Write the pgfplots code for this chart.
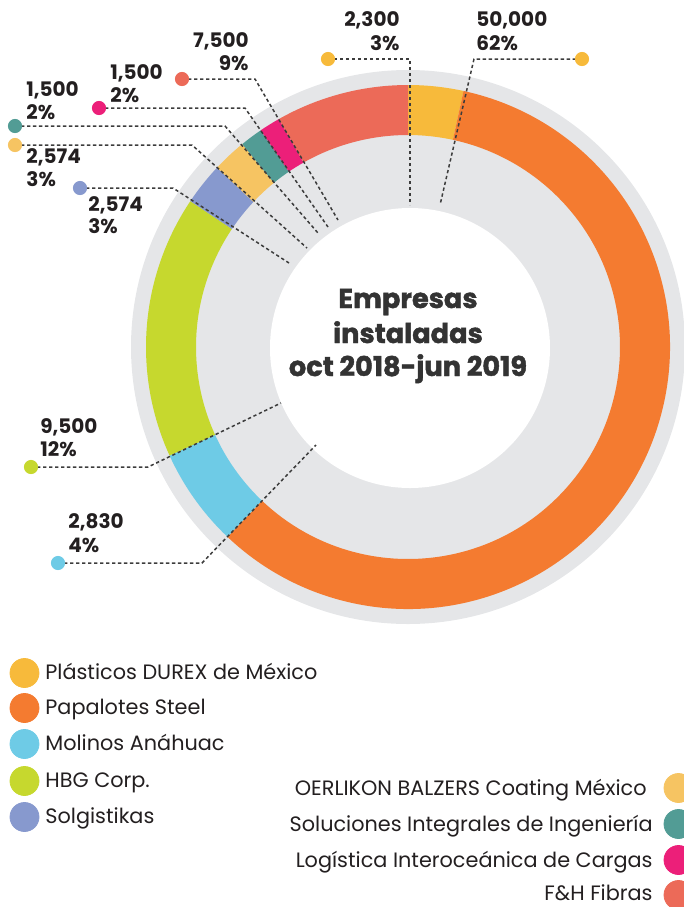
\documentclass[border=0pt]{standalone}
\usepackage{pgfplots}
\pgfplotsset{compat=1.18}
\usepackage{pgfplotstable}
\usepackage{fontspec}
\setmainfont{Poppins}
\newfontfamily\heavy[BoldFeatures={FakeBold=1.6}]{Poppins}

\definecolor{cDurex}{HTML}{F7BA3B}
\definecolor{cPapalotes}{HTML}{F47B30}
\definecolor{cMolinos}{HTML}{6ECBE6}
\definecolor{cHBG}{HTML}{C6D82E}
\definecolor{cSolg}{HTML}{8799CE}
\definecolor{cOerlikon}{HTML}{F6C462}
\definecolor{cSoluc}{HTML}{529C95}
\definecolor{cLogist}{HTML}{EC1F79}
\definecolor{cFH}{HTML}{EC6A58}
\definecolor{ringgray}{HTML}{E5E6E8}
\definecolor{txt}{HTML}{231F20}
\definecolor{leader}{HTML}{3C3C3C}

% share of the ring as drawn (percent), clockwise from 12 o'clock
\pgfplotstableread{
color      share value
cDurex     3.4   2300
cPapalotes 58.7  50000
cMolinos   6.1   2830
cHBG       16.2  9500
cSolg      2.6   2574
cOerlikon  2.1   2574
cSoluc     1.4   1500
cLogist    1.3   1500
cFH        8.2   7500
}\slices

\tikzset{
  lead/.style={leader, line width=0.75pt, dash pattern=on 1.65pt off 1.35pt,
    mark=*, mark indices={1}, mark size=3.15pt,
    mark options={solid, draw=#1, fill=#1}},
  sw/.style={only marks, mark=*, mark size=7.25pt, mark options={draw=#1, fill=#1}},
  num/.style={font=\fontsize{10}{12}\selectfont\bfseries, text=txt, inner sep=0pt},
  leg/.style={font=\fontsize{10.4}{12}\selectfont, text=txt, inner sep=0pt},
  ttl/.style={font=\fontsize{13.6}{15}\selectfont\heavy\bfseries, text=black!80, inner sep=0pt, anchor=base},
}

\begin{document}
\begin{tikzpicture}
\begin{axis}[
  width=342pt, height=453.5pt, scale only axis,
  xmin=0, xmax=684, ymin=0, ymax=907, y dir=reverse,
  hide axis, clip=false,
]
\coordinate (bl) at (rel axis cs:0,0);
\coordinate (tr) at (rel axis cs:1,1);

% background rings
\fill[ringgray] (axis cs:408,347) circle[radius=138.5pt];
\fill[white] (axis cs:410,348) circle[radius=70pt];

% ring slices
\pgfplotstablegetrowsof{\slices}
\pgfmathtruncatemacro\nlast{\pgfplotsretval-1}
\def\cum{0}
\pgfplotsforeachungrouped \i in {0,...,\nlast}{%
  \pgfplotstablegetelem{\i}{color}\of\slices \let\col\pgfplotsretval
  \pgfplotstablegetelem{\i}{share}\of\slices \let\shr\pgfplotsretval
  \pgfmathsetmacro\aA{90-3.6*\cum}
  \pgfmathsetmacro\cum{\cum+\shr}
  \pgfmathsetmacro\aB{90-3.6*\cum}
  \pgfmathsetmacro\xA{408+262*cos(\aA)}
  \pgfmathsetmacro\yA{347-262*sin(\aA)}
  \pgfmathsetmacro\xB{408+212*cos(\aB)}
  \pgfmathsetmacro\yB{347-212*sin(\aB)}
  \edef\temp{\noexpand\fill[\col] (axis cs:\xA,\yA)
    arc[start angle=\aA, end angle=\aB, radius=131pt] -- (axis cs:\xB,\yB)
    arc[start angle=\aB, end angle=\aA, radius=106pt] -- cycle;}
  \temp
}

% leader lines
\addplot[lead=cDurex] coordinates {(328,59) (410,59) (410,205)};
\addplot[lead=cDurex] coordinates {(582,59) (474,59) (440,205)};
\addplot[lead=cFH] coordinates {(182,79) (255,79) (338,220)};
\addplot[lead=cLogist] coordinates {(99,108) (245,108) (328,227)};
\addplot[lead=cSoluc] coordinates {(15,126) (225,126) (318,233)};
\addplot[lead=cOerlikon] coordinates {(15,145) (192,145) (307,248)};
\addplot[lead=cSolg] coordinates {(80,188) (173,188) (289,263)};
\addplot[lead=cHBG] coordinates {(31,467) (148,467) (281,403)};
\addplot[lead=cMolinos] coordinates {(58,563) (202,563) (316,445)};

% value labels
\node[num, anchor=base east] at (axis cs:400,26) {2,300};
\node[num, anchor=base east] at (axis cs:400,50) {3\%};
\node[num, anchor=base west] at (axis cs:476,26) {50,000};
\node[num, anchor=base west] at (axis cs:476,50) {62\%};
\node[num, anchor=base east] at (axis cs:249,47) {7,500};
\node[num, anchor=base east] at (axis cs:249,70) {9\%};
\node[num, anchor=base west] at (axis cs:110,79) {1,500};
\node[num, anchor=base west] at (axis cs:110,102) {2\%};
\node[num, anchor=base west] at (axis cs:26,96) {1,500};
\node[num, anchor=base west] at (axis cs:26,119) {2\%};
\node[num, anchor=base west] at (axis cs:26,163) {2,574};
\node[num, anchor=base west] at (axis cs:26,186) {3\%};
\node[num, anchor=base west] at (axis cs:88,211) {2,574};
\node[num, anchor=base west] at (axis cs:88,233) {3\%};
\node[num, anchor=base west] at (axis cs:40,433) {9,500};
\node[num, anchor=base west] at (axis cs:40,456) {12\%};
\node[num, anchor=base west] at (axis cs:68,528) {2,830};
\node[num, anchor=base west] at (axis cs:68,552) {4\%};

% centre title
\node[ttl] at (axis cs:408,308) {Empresas};
\node[ttl] at (axis cs:408,343) {instaladas};
\node[ttl] at (axis cs:408,376) {oct 2018-jun 2019};

% legend swatches
\addplot[sw=cDurex] coordinates {(24.5,673)};
\addplot[sw=cPapalotes] coordinates {(24.5,708)};
\addplot[sw=cMolinos] coordinates {(24.5,744)};
\addplot[sw=cHBG] coordinates {(24.5,781)};
\addplot[sw=cSolg] coordinates {(24.5,817)};
\addplot[sw=cOerlikon] coordinates {(678.5,788)};
\addplot[sw=cSoluc] coordinates {(678.5,824)};
\addplot[sw=cLogist] coordinates {(678.5,860)};
\addplot[sw=cFH] coordinates {(678.5,895)};

% legend text
\node[leg, anchor=base west] at (axis cs:45,679) {Plásticos DUREX de México};
\node[leg, anchor=base west] at (axis cs:45,714) {Papalotes Steel};
\node[leg, anchor=base west] at (axis cs:45,750) {Molinos Anáhuac};
\node[leg, anchor=base west] at (axis cs:45,787) {HBG Corp.};
\node[leg, anchor=base west] at (axis cs:45,823) {Solgistikas};
\node[leg, anchor=base east] at (axis cs:647,795) {OERLIKON BALZERS Coating México};
\node[leg, anchor=base east] at (axis cs:653,831) {Soluciones Integrales de Ingeniería};
\node[leg, anchor=base east] at (axis cs:653,867) {Logística Interoceánica de Cargas};
\node[leg, anchor=base east] at (axis cs:653,900) {F\&H Fibras};
\end{axis}
\pgfresetboundingbox
\useasboundingbox (bl) rectangle (tr);
\end{tikzpicture}
\end{document}
